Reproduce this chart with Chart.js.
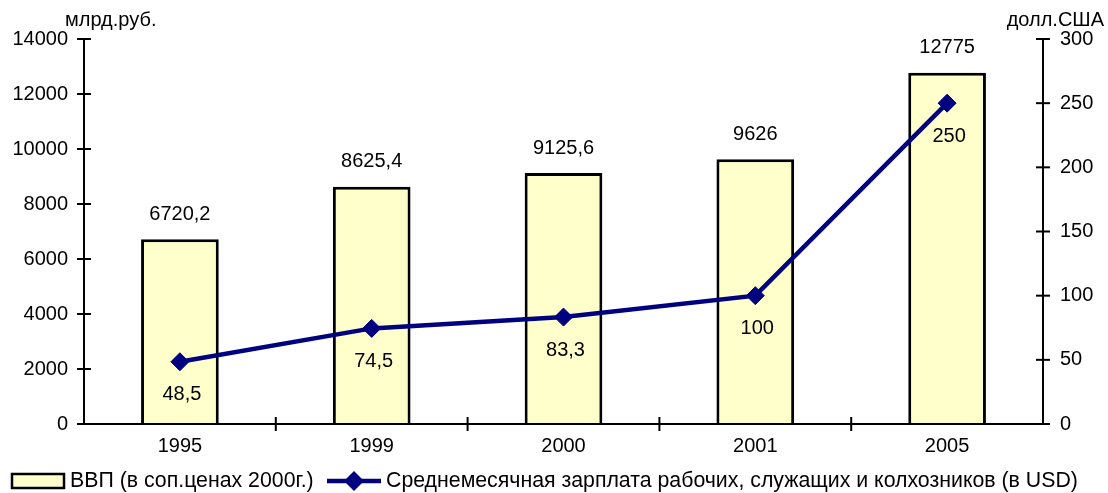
<!DOCTYPE html>
<html>
<head>
<meta charset="utf-8">
<script src="https://cdn.jsdelivr.net/npm/chart.js@4.4.1/dist/chart.umd.min.js"></script>
<style>
  html, body { margin: 0; padding: 0; background: #fff; }
  #wrap { width: 1108px; height: 493px; }
</style>
</head>
<body>
<div id="wrap"><canvas id="chart" width="1108" height="493"></canvas></div>
<script>
// chart data
const years = ['1995', '1999', '2000', '2001', '2005'];
const gdp = [6720.2, 8625.4, 9125.6, 9626, 12775];
const wage = [48.5, 74.5, 83.3, 100, 250];
const gdpLabels = ['6720,2', '8625,4', '9125,6', '9626', '12775'];
const wageLabels = ['48,5', '74,5', '83,3', '100', '250'];
const gdpName = 'ВВП (в соп.ценах 2000г.)';
const wageName = 'Среднемесячная зарплата рабочих, служащих и колхозников (в USD)';

const FONT = '"Liberation Sans", Arial, sans-serif';
const BAR_FILL = '#FFFFCC';
const NAVY = '#000080';

// axes, ticks, value labels, unit titles and legend drawn on top of the chart
const decorPlugin = {
    id: 'decor',
    afterDatasetsDraw(chart) {
        const ctx = chart.ctx;
        const area = chart.chartArea;
        const x = chart.scales.x;
        const y = chart.scales.y;
        const y1 = chart.scales.y1;
        ctx.save();
        ctx.strokeStyle = '#000';
        ctx.lineWidth = 2;

        // axis lines
        ctx.beginPath();
        ctx.moveTo(area.left, area.top - 1);
        ctx.lineTo(area.left, area.bottom);
        ctx.lineTo(area.right, area.bottom);
        ctx.moveTo(area.right, area.top - 1);
        ctx.lineTo(area.right, area.bottom);
        ctx.stroke();

        ctx.fillStyle = '#000';
        ctx.font = '20px ' + FONT;

        // left ticks
        ctx.textAlign = 'right';
        ctx.textBaseline = 'middle';
        y.ticks.forEach(t => {
            const py = y.getPixelForValue(t.value);
            ctx.beginPath();
            ctx.moveTo(area.left - 7, py);
            ctx.lineTo(area.left + 7, py);
            ctx.stroke();
            ctx.fillText(String(t.value), area.left - 16, py);
        });

        // right ticks
        ctx.textAlign = 'left';
        y1.ticks.forEach(t => {
            const py = y1.getPixelForValue(t.value);
            ctx.beginPath();
            ctx.moveTo(area.right - 7, py);
            ctx.lineTo(area.right + 7, py);
            ctx.stroke();
            ctx.fillText(String(t.value), area.right + 17, py);
        });

        // x ticks between categories and labels
        const step = (area.right - area.left) / years.length;
        for (let i = 1; i < years.length; i++) {
            const px = area.left + step * i;
            ctx.beginPath();
            ctx.moveTo(px, area.bottom - 7);
            ctx.lineTo(px, area.bottom + 7);
            ctx.stroke();
        }
        ctx.textAlign = 'center';
        years.forEach((yr, i) => {
            ctx.fillText(yr, x.getPixelForValue(i), area.bottom + 22);
        });

        // unit titles
        ctx.textAlign = 'left';
        ctx.fillText('млрд.руб.', 65, 20);
        ctx.textAlign = 'right';
        ctx.fillText('долл.США', 1104, 20);

        // value labels
        ctx.textAlign = 'center';
        chart.data.datasets.forEach((ds, di) => {
            chart.getDatasetMeta(di).data.forEach((el, i) => {
                if (ds.type === 'bar') {
                    ctx.fillText(gdpLabels[i], el.x, el.y - 25);
                } else {
                    ctx.fillText(wageLabels[i], el.x + 2, el.y + 33);
                }
            });
        });

        // legend
        const ly = 481;
        ctx.font = '21.3px ' + FONT;
        ctx.fillStyle = BAR_FILL;
        ctx.fillRect(12, ly - 7, 52, 14);
        ctx.lineWidth = 2.5;
        ctx.strokeRect(12, ly - 7, 52, 14);
        ctx.fillStyle = '#000';
        ctx.textAlign = 'left';
        ctx.fillText(gdpName, 70, ly);

        ctx.strokeStyle = NAVY;
        ctx.lineWidth = 4.5;
        ctx.beginPath();
        ctx.moveTo(327, ly);
        ctx.lineTo(381, ly);
        ctx.stroke();
        ctx.fillStyle = NAVY;
        ctx.beginPath();
        ctx.moveTo(354, ly - 10);
        ctx.lineTo(364, ly);
        ctx.lineTo(354, ly + 10);
        ctx.lineTo(344, ly);
        ctx.closePath();
        ctx.fill();
        ctx.fillStyle = '#000';
        ctx.fillText(wageName, 386, ly);

        ctx.restore();
    }
};

const ctx = document.getElementById('chart').getContext('2d');
const myChart = new Chart(ctx, {
    data: {
        labels: years,
        datasets: [{
            type: 'line',
            label: wageName,
            data: wage,
            yAxisID: 'y1',
            borderColor: NAVY,
            backgroundColor: NAVY,
            borderWidth: 4.5,
            tension: 0,
            pointStyle: 'rectRot',
            pointRadius: 9,
            pointBorderWidth: 1,
            order: 0
        }, {
            type: 'bar',
            label: gdpName,
            data: gdp,
            yAxisID: 'y',
            backgroundColor: BAR_FILL,
            borderColor: '#000',
            borderWidth: 3,
            barPercentage: 0.405,
            categoryPercentage: 1,
            order: 1
        }]
    },
    options: {
        responsive: false,
        animation: false,
        layout: { padding: { top: 39, left: 0, right: 0, bottom: 0 } },
        plugins: {
            legend: { display: false },
            tooltip: { enabled: false }
        },
        scales: {
            x: {
                offset: true,
                grid: { display: false },
                border: { display: false },
                ticks: { display: false },
                afterFit(scale) { scale.height = 69; }
            },
            y: {
                position: 'left',
                min: 0,
                max: 14000,
                ticks: { stepSize: 2000, display: false },
                grid: { display: false },
                border: { display: false },
                afterFit(scale) { scale.width = 84; }
            },
            y1: {
                position: 'right',
                min: 0,
                max: 300,
                ticks: { stepSize: 50, display: false },
                grid: { display: false },
                border: { display: false },
                afterFit(scale) { scale.width = 65; }
            }
        }
    },
    plugins: [decorPlugin]
});
</script>
</body>
</html>
